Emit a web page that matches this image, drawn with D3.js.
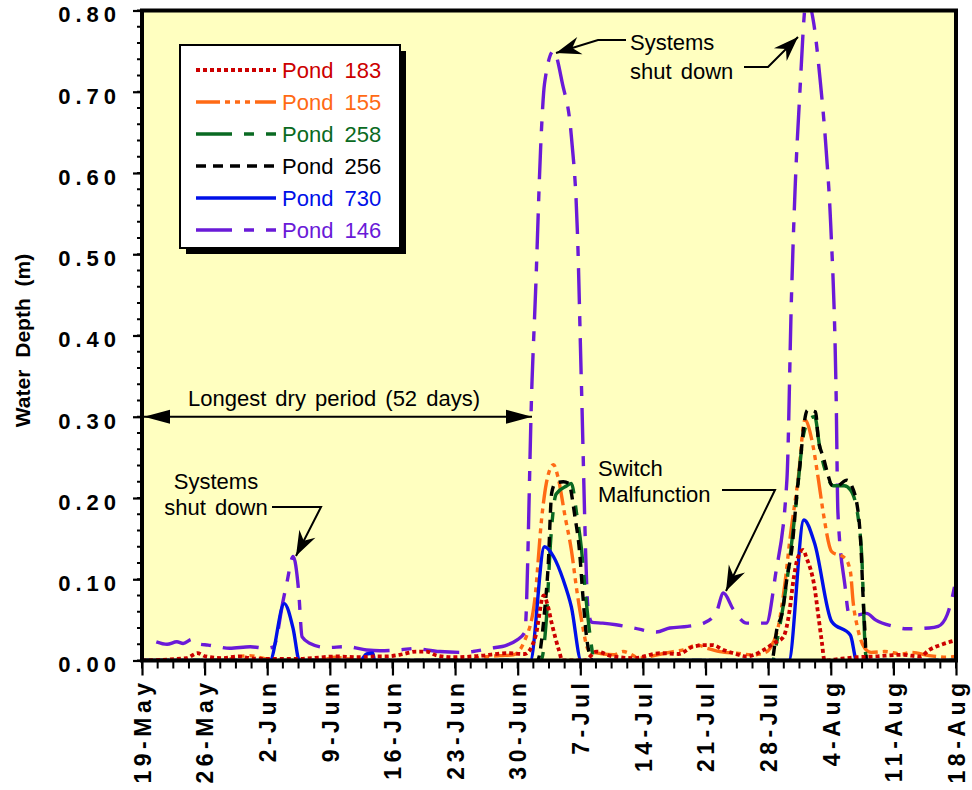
<!DOCTYPE html>
<html>
<head>
<meta charset="utf-8">
<script src="https://d3js.org/d3.v7.min.js"></script>
<style>
  body { margin: 0; background: #fff; }
  svg { display: block; }
</style>
</head>
<body>
<svg id="chart" width="972" height="790"></svg>
<script>
// ---- Data (x = days after 19-May, y = water depth in m) ----
const dateLabels = ["19-May","26-May","2-Jun","9-Jun","16-Jun","23-Jun","30-Jun","7-Jul","14-Jul","21-Jul","28-Jul","4-Aug","11-Aug","18-Aug"];
const yTicks = [0,0.1,0.2,0.3,0.4,0.5,0.6,0.7,0.8];
const seriesNames = ["Pond 183","Pond 155","Pond 258","Pond 256","Pond 730","Pond 146"];

const pond146 = [[1.6,0.023],[2.8,0.02],[3.9,0.023],[4.6,0.021],[5.6,0.026],[6.5,0.02],[7.4,0.019],[8.4,0.017],[9.8,0.015],[12.1,0.017],[13.9,0.015],[14.7,0.017],[15.8,0.075],[16.2,0.096],[16.9,0.128],[17.5,0.087],[17.9,0.029],[18.8,0.021],[20.6,0.016],[22.9,0.017],[25.1,0.013],[26.6,0.012],[28.8,0.013],[30.7,0.015],[31.8,0.013],[33.3,0.011],[35.9,0.01],[37,0.011],[38.9,0.015],[40.8,0.019],[41.9,0.025],[42.8,0.035],[43.6,0.343],[44,0.454],[44.6,0.64],[45,0.71],[46,0.75],[47,0.71],[48,0.645],[48.7,0.52],[49.1,0.35],[49.9,0.06],[50.3,0.047],[51.5,0.046],[53,0.044],[55,0.04],[57.5,0.035],[59,0.04],[61,0.042],[62.8,0.046],[64.2,0.059],[65,0.083],[66.1,0.063],[67.6,0.046],[69.8,0.046],[70.8,0.104],[72.1,0.223],[72.6,0.445],[73,0.577],[73.5,0.69],[74.3,0.815],[75.1,0.784],[75.8,0.716],[76.5,0.626],[77,0.535],[77.6,0.326],[77.8,0.182],[78.6,0.091],[79,0.059],[80,0.056],[81,0.058],[82,0.05],[84,0.042],[85.5,0.039],[88,0.04],[89,0.042],[90,0.056],[90.5,0.074],[91,0.1]];

const pond730 = [[0,0],[14.3,0],[15.9,0.07],[16.9,0.039],[17.6,0],[24.4,0],[25.1,0.008],[25.8,0.009],[26,0],[43.4,0],[45,0.14],[46,0.128],[47.1,0.099],[48,0.066],[49.1,0],[72.3,0],[74,0.173],[75.2,0.144],[77.1,0.048],[79.2,0.031],[79.9,0],[91,0]];

const pond183 = [[0,0],[5,0.003],[6.2,0.009],[7.1,0.005],[9,0.003],[10.9,0.005],[12,0.003],[14,0.002],[17.5,0.002],[19,0.003],[21.8,0.005],[24,0.004],[26,0.005],[27.4,0.005],[28.8,0.007],[30.7,0.011],[31.8,0.011],[33,0.006],[35,0.004],[38,0.006],[40.8,0.009],[42.8,0.008],[44,0.03],[44.9,0.08],[45.3,0.07],[45.8,0.046],[46.6,0.013],[47,0],[49.5,0],[50.8,0.011],[52.6,0.005],[55,0.003],[57.9,0.009],[60,0.008],[61.6,0.017],[63.1,0.019],[63.8,0.019],[65,0.013],[66.1,0.009],[67.6,0.005],[69.5,0.013],[70.6,0.021],[71.7,0.029],[72.4,0.062],[72.8,0.097],[73.3,0.126],[73.9,0.136],[74.3,0.126],[75.2,0.089],[75.6,0.056],[76,0.023],[76.3,0],[78,0.002],[80,0.004],[82,0.005],[85,0.007],[87,0.005],[88,0.013],[89.5,0.02],[91,0.025]];

const pond155 = [[0,0],[9,0],[10.5,0.004],[12,0.006],[13.5,0.003],[15,0],[20,0],[21.5,0.004],[23,0.002],[25,0],[36,0],[38,0.004],[40,0.006],[41.5,0.007],[42.8,0.025],[43.9,0.074],[44.7,0.177],[45.2,0.218],[46,0.241],[46.5,0.226],[47.3,0.177],[48,0.136],[48.6,0.087],[49.2,0.046],[49.9,0.013],[50.5,0.01],[52.7,0.007],[53.8,0.011],[55.7,0.003],[57.6,0.007],[59.4,0.011],[60.5,0.013],[62.1,0.019],[63.2,0.015],[64.6,0.011],[66.5,0.009],[68.3,0.007],[69.9,0.011],[70.2,0.015],[71.1,0.04],[71.9,0.097],[72.4,0.146],[73.4,0.228],[74.1,0.296],[75,0.265],[75.6,0.224],[76.2,0.179],[77.1,0.134],[78.6,0.126],[79.2,0.109],[79.5,0.072],[80,0.04],[80.8,0.015],[81.5,0.01],[83,0.011],[85,0.008],[86,0.01],[88,0.006],[90,0.004],[91,0.005]];

const pond256 = [[0,0],[44.2,0],[45,0.06],[45.4,0.115],[45.8,0.206],[46.2,0.218],[47.1,0.22],[47.7,0.218],[48.4,0.177],[48.9,0.136],[49.3,0.078],[49.7,0.029],[50.1,0.005],[50.4,0],[70.4,0],[71,0.04],[71.6,0.06],[72.1,0.101],[72.7,0.142],[73.2,0.204],[73.6,0.245],[74,0.29],[74.4,0.308],[75.3,0.306],[75.6,0.273],[76.2,0.249],[76.7,0.228],[77.1,0.216],[77.7,0.215],[78.8,0.222],[79.3,0.216],[80.1,0.179],[80.4,0.134],[80.6,0.081],[80.8,0.04],[81,0],[91,0]];

const pond258 = [[0,0],[44.6,0],[45.2,0.05],[45.7,0.15],[46.3,0.205],[47.5,0.215],[48,0.218],[48.6,0.18],[49.1,0.14],[49.6,0.08],[50.1,0.03],[50.6,0],[70.5,0],[71,0.025],[72,0.09],[73,0.18],[74,0.28],[74.7,0.298],[75.2,0.3],[75.8,0.26],[76.5,0.23],[77.3,0.215],[78.5,0.215],[79.2,0.21],[80.1,0.173],[80.5,0.12],[80.8,0.025],[81,0],[91,0]];

// ---- Layout ----
const svg = d3.select("#chart");
const L = 142, R = 956, T = 10.5, B = 660.5;
const x = d3.scaleLinear().domain([0, 91]).range([L, R]);
const y = d3.scaleLinear().domain([0, 0.8]).range([B, T]);

const series = [
  {name: seriesNames[0], data: pond183, color: "#CC0000", dash: "4,3", w: 3.8},
  {name: seriesNames[1], data: pond155, color: "#FF6A14", dash: "24,5,5,5,5,5,5,5", w: 3.4},
  {name: seriesNames[2], data: pond258, color: "#0A6A22", dash: "36,12,10,12", w: 3.4},
  {name: seriesNames[3], data: pond256, color: "#000000", dash: "10,7", w: 3.4},
  {name: seriesNames[4], data: pond730, color: "#0010E8", dash: null, w: 3.4},
  {name: seriesNames[5], data: pond146, color: "#6A1AD8", dash: "36,12,10,12", w: 3.4}
];

// defs
const defs = svg.append("defs");
defs.append("clipPath").attr("id", "clip").append("rect")
  .attr("x", L).attr("y", T).attr("width", R - L).attr("height", B - T);
defs.append("marker").attr("id", "tri").attr("markerUnits", "userSpaceOnUse")
  .attr("viewBox", "-26 -8 27 16").attr("refX", 0).attr("refY", 0)
  .attr("markerWidth", 27).attr("markerHeight", 16).attr("orient", "auto-start-reverse")
  .append("path").attr("d", "M0,0 L-26,-7 L-26,7 Z").attr("fill", "#000");
defs.append("marker").attr("id", "stealth").attr("markerUnits", "userSpaceOnUse")
  .attr("viewBox", "-26 -10 27 20").attr("refX", 0).attr("refY", 0)
  .attr("markerWidth", 27).attr("markerHeight", 20).attr("orient", "auto")
  .append("path").attr("d", "M0,0 L-25,-9 L-17,0 L-25,9 Z").attr("fill", "#000");

// plot background
svg.append("rect").attr("x", L).attr("y", T).attr("width", R - L).attr("height", B - T)
  .attr("fill", "#FFFFC0");

// series lines
const line = d3.line().x(d => x(d[0])).y(d => y(d[1])).curve(d3.curveMonotoneX);
const gLines = svg.append("g").attr("clip-path", "url(#clip)");
const order = [5, 1, 2, 3, 4, 0];
order.forEach(i => {
  const s = series[i];
  gLines.append("path").datum(s.data).attr("d", line)
    .attr("fill", "none").attr("stroke", s.color).attr("stroke-width", s.w)
    .attr("stroke-dasharray", s.dash).attr("stroke-linejoin", "round");
});

// frame
svg.append("rect").attr("x", L).attr("y", T).attr("width", R - L).attr("height", B - T)
  .attr("fill", "none").attr("stroke", "#000").attr("stroke-width", 4);

// y axis
const tickFont = "'Liberation Sans', Arial, sans-serif";
const yMinor = d3.range(0, 0.8001, 0.02);
svg.append("g").selectAll("line").data(yMinor).join("line")
  .attr("x1", L - 5).attr("x2", L).attr("y1", d => y(d)).attr("y2", d => y(d))
  .attr("stroke", "#000").attr("stroke-width", 2);
const yAxis = d3.axisLeft(y).tickValues(yTicks).tickFormat(d3.format(".2f")).tickSize(9).tickPadding(12);
const gy = svg.append("g").attr("transform", `translate(${L},0)`).call(yAxis);
gy.select(".domain").remove();
gy.selectAll(".tick line").attr("stroke-width", 2.2);
gy.selectAll(".tick text").attr("font-family", tickFont).attr("font-weight", "bold")
  .attr("font-size", 22).attr("letter-spacing", "5px").attr("fill", "#000").attr("dy", "0.52em");

// x axis
const xMinor = d3.range(0, 91.001, 1.75);
svg.append("g").selectAll("line").data(xMinor).join("line")
  .attr("x1", d => x(d)).attr("x2", d => x(d)).attr("y1", B).attr("y2", B + 8)
  .attr("stroke", "#000").attr("stroke-width", 2);
const xAxis = d3.axisBottom(x).tickValues(d3.range(0, 92, 7))
  .tickFormat((d, i) => dateLabels[i]).tickSize(15).tickSizeOuter(0);
const gx = svg.append("g").attr("transform", `translate(0,${B})`).call(xAxis);
gx.select(".domain").remove();
gx.selectAll(".tick line").attr("stroke-width", 2.2);
gx.selectAll(".tick text").attr("font-family", tickFont).attr("font-weight", "bold")
  .attr("font-size", 23).attr("letter-spacing", "4.5px").attr("fill", "#000")
  .attr("text-anchor", "end").attr("transform", "rotate(-90)")
  .attr("x", -18).attr("y", 0).attr("dy", "0.36em");

// y title
svg.append("text").attr("transform", `translate(30,${(T + B) / 2 + 5}) rotate(-90)`)
  .attr("text-anchor", "middle").attr("font-family", tickFont).attr("font-weight", "bold")
  .attr("font-size", 21).attr("word-spacing", "6px").text("Water Depth (m)");

// legend
const lg = svg.append("g");
lg.append("rect").attr("x", 186).attr("y", 51).attr("width", 220).attr("height", 203).attr("fill", "#000");
lg.append("rect").attr("x", 180).attr("y", 45).attr("width", 220).attr("height", 203)
  .attr("fill", "#fff").attr("stroke", "#000").attr("stroke-width", 2);
series.forEach((s, i) => {
  const yy = 70 + i * 32;
  lg.append("line").attr("x1", 196).attr("x2", 276).attr("y1", yy).attr("y2", yy)
    .attr("stroke", s.color).attr("stroke-width", s.w).attr("stroke-dasharray", s.dash);
  lg.append("text").attr("x", 282).attr("y", yy).attr("dy", "0.36em")
    .attr("font-family", tickFont).attr("font-size", 22).attr("word-spacing", "5px")
    .attr("fill", s.color).text(s.name);
});

// annotations
function txt(xp, yp, s, anchor) {
  svg.append("text").attr("x", xp).attr("y", yp).attr("dy", "0.36em")
    .attr("text-anchor", anchor || "start").attr("font-family", tickFont)
    .attr("font-size", 22).attr("word-spacing", "3px").attr("fill", "#000").text(s);
}
function leader(pts) {
  svg.append("path").attr("d", d3.line()(pts)).attr("fill", "none")
    .attr("stroke", "#000").attr("stroke-width", 2).attr("marker-end", "url(#stealth)");
}

// dry period
txt(334, 398, "Longest dry period (52 days)", "middle");
svg.append("line").attr("x1", L + 2).attr("x2", 532).attr("y1", y(0.3)).attr("y2", y(0.3))
  .attr("stroke", "#000").attr("stroke-width", 2)
  .attr("marker-start", "url(#tri)").attr("marker-end", "url(#tri)");

// early shutdown
txt(216, 481, "Systems", "middle");
txt(216, 507, "shut down", "middle");
leader([[272, 507], [321, 507], [296, 556]]);

// July shutdown
txt(630, 42, "Systems", "start");
txt(630, 71, "shut down", "start");
leader([[626, 40], [598, 40], [556, 53]]);
leader([[744, 67], [768, 67], [798, 37]]);

// switch malfunction
txt(598, 468, "Switch", "start");
txt(598, 494, "Malfunction", "start");
leader([[722, 490], [775, 490], [726, 591]]);
</script>
</body>
</html>
